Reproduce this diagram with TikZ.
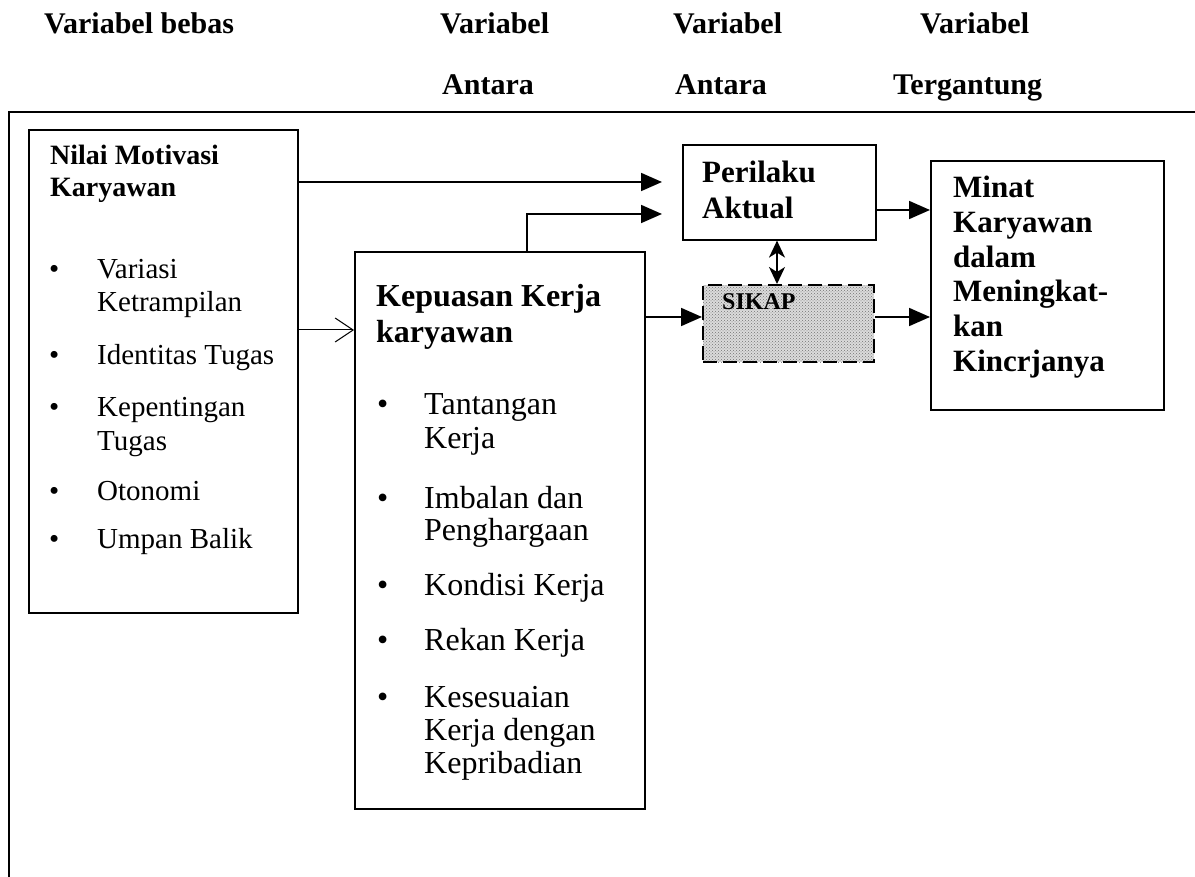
\documentclass[tikz,border=0pt]{standalone}
\usepackage{fontspec}
\setmainfont{Liberation Serif}
\usetikzlibrary{arrows.meta,patterns}
\begin{document}
\begin{tikzpicture}[x=1pt,y=-1pt,
  box/.style={draw, line width=1.6pt, inner sep=0pt, anchor=north west},
  hd/.style={font=\fontsize{30}{34}\selectfont\bfseries, inner sep=0pt, anchor=base west},
  ta/.style={font=\fontsize{29}{33}\selectfont, inner sep=0pt, anchor=base west},
  tb/.style={font=\fontsize{32}{36}\selectfont, inner sep=0pt, anchor=base west},
  ba/.style={font=\fontsize{28}{33}\selectfont\bfseries, inner sep=0pt, anchor=base west},
  bb/.style={font=\fontsize{32}{36}\selectfont\bfseries, inner sep=0pt, anchor=base west},
  bc/.style={font=\fontsize{31}{36}\selectfont\bfseries, inner sep=0pt, anchor=base west},
  arr/.style={-{Triangle[length=21pt,width=18pt]}, line width=1.8pt},
  dbl/.style={{Stealth[length=17pt,width=16pt,inset=5pt]}-{Stealth[length=17pt,width=16pt,inset=5pt]}, line width=1.8pt},
  opn/.style={-{Straight Barb[length=18pt,width=24pt,line width=1pt]}, line width=1pt}
]
\useasboundingbox (0,0) rectangle (1195,877);

% headers
\node[hd] (h1) at (44,34) {Variabel bebas};
\node[hd] (h2a) at (440,34) {Variabel};
\node[hd] (h2b) at (442,95) {Antara};
\node[hd] (h3a) at (673,34) {Variabel};
\node[hd] (h3b) at (675,95) {Antara};
\node[hd] (h4a) at (920,34) {Variabel};
\node[hd] (h4b) at (893,95) {Tergantung};

% outer frame
\coordinate (ftr) at (1195,112);
\coordinate (ftl) at (9,112);
\coordinate (fbl) at (9,877);
\draw[line width=2pt] (ftr) -- (ftl) -- (fbl);

% boxes
\node[box, minimum width=269pt, minimum height=483pt] (b1) at (28,129) {};
\node[box, minimum width=290pt, minimum height=557pt] (b2) at (354,251) {};
\node[box, minimum width=193pt, minimum height=95pt] (per) at (682,144) {};
\node[box, dashed, dash pattern=on 14pt off 6pt, line width=2.2pt,
      preaction={fill=black!14}, pattern=crosshatch dots, pattern color=black!55,
      minimum width=171pt, minimum height=77pt] (sik) at (702,284) {};
\node[box, minimum width=233pt, minimum height=249pt] (min) at (930,160) {};

% box 1 text
\node[ba] (n1) at (50,165) {Nilai Motivasi};
\node[ba] (n2) at (50,197) {Karyawan};
\node[ta] (u1) at (49,279) {\textbullet};
\node[ta] (v1) at (97,279) {Variasi};
\node[ta] (v2) at (97,312) {Ketrampilan};
\node[ta] (u2) at (49,365) {\textbullet};
\node[ta] (v3) at (97,365) {Identitas Tugas};
\node[ta] (u3) at (49,417) {\textbullet};
\node[ta] (v4) at (97,417) {Kepentingan};
\node[ta] (v5) at (97,450) {Tugas};
\node[ta] (u4) at (49,500) {\textbullet};
\node[ta] (v6) at (97,500) {Otonomi};
\node[ta] (u5) at (49,548) {\textbullet};
\node[ta] (v7) at (97,548) {Umpan Balik};

% box 2 text
\node[bb] (k1) at (376,307) {Kepuasan Kerja};
\node[bb] (k2) at (376,343) {karyawan};
\node[tb] (w1) at (377,415) {\textbullet};
\node[tb] (x1) at (424,415) {Tantangan};
\node[tb] (x2) at (424,448) {Kerja};
\node[tb] (w2) at (377,508) {\textbullet};
\node[tb] (x3) at (424,508) {Imbalan dan};
\node[tb] (x4) at (424,540) {Penghargaan};
\node[tb] (w3) at (377,595) {\textbullet};
\node[tb] (x5) at (424,595) {Kondisi Kerja};
\node[tb] (w4) at (377,650) {\textbullet};
\node[tb] (x6) at (424,650) {Rekan Kerja};
\node[tb] (w5) at (377,707) {\textbullet};
\node[tb] (x7) at (424,707) {Kesesuaian};
\node[tb] (x8) at (424,740) {Kerja dengan};
\node[tb] (x9) at (424,773) {Kepribadian};

% perilaku, sikap, minat text
\node[bc] (p1) at (702,183) {Perilaku};
\node[bc] (p2) at (702,219) {Aktual};
\node[font=\fontsize{24}{28}\selectfont\bfseries, inner sep=0pt, anchor=base west] (s1) at (722,310) {SIKAP};
\node[bc] (m1) at (953,198) {Minat};
\node[bc] (m2) at (953,233) {Karyawan};
\node[bc] (m3) at (953,268) {dalam};
\node[bc] (m4) at (953,302) {Meningkat-};
\node[bc] (m5) at (953,337) {kan};
\node[bc] (m6) at (953,372) {Kincrjanya};

% connectors
\draw[arr, shorten >=20pt] (b1.north east) ++(0,53) coordinate (t1) -- (t1 -| per.west);
\draw[arr, shorten >=20pt] (b2.north west) ++(173,0) coordinate (t2) -- ++(0,-37) coordinate (t2b) -- (t2b -| per.west);
\draw[arr] (b2.north east) ++(0,66) coordinate (t3) -- (t3 -| sik.west);
\draw[arr] (per.north east) ++(0,66) coordinate (t4) -- (t4 -| min.west);
\draw[arr] (sik.north east) ++(0,33) coordinate (t5) -- (t5 -| min.west);
\draw[dbl] (per.south west) ++(95,0) coordinate (t6) -- (t6 |- sik.north);
\draw[opn] (b1.north east) ++(0,201) coordinate (t7) -- (t7 -| b2.west);
\end{tikzpicture}
\end{document}
